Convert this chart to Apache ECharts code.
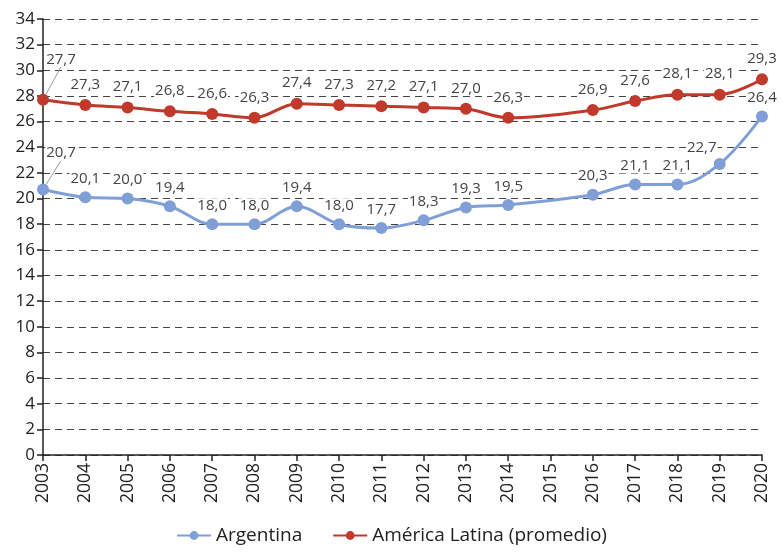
<!DOCTYPE html>
<html>
<head>
<meta charset="utf-8">
<script src="https://cdn.jsdelivr.net/npm/echarts@6/dist/echarts.min.js"></script>
<style>
html,body{margin:0;padding:0;background:#fff;}
#c{width:783px;height:554px;}
</style>
</head>
<body>
<div id="c"></div>
<script>
const years = ['2003','2004','2005','2006','2007','2008','2009','2010','2011','2012','2013','2014','2015','2016','2017','2018','2019','2020'];
const argentina = [20.7,20.1,20.0,19.4,18.0,18.0,19.4,18.0,17.7,18.3,19.3,19.5,null,20.3,21.1,21.1,22.7,26.4];
const americaLatina = [27.7,27.3,27.1,26.8,26.6,26.3,27.4,27.3,27.2,27.1,27.0,26.3,null,26.9,27.6,28.1,28.1,29.3];
const seriesNames = ['Argentina','América Latina (promedio)'];

const fontFam = '"Open Sans", "Noto Sans", sans-serif';
const fmt = p => p.value == null ? '' : p.value.toFixed(1).replace('.', ',');
const withLeader = arr => arr.map((v, i) => i === 0 ? {value: v, labelLine: {show: true}} : v);
const labelStyle = {
  show: true, position: 'top', formatter: fmt, fontFamily: fontFam, fontSize: 15, color: '#444',
  backgroundColor: '#fff', padding: [0, 1, 0, 1]
};

const chart = echarts.init(document.getElementById('c'));
chart.setOption({
  animation: false,
  grid: {left: 43, right: 21, top: 19, bottom: 99, containLabel: false},
  legend: {
    bottom: 4, left: 'center', itemGap: 30, itemWidth: 34, itemHeight: 11,
    textStyle: {fontFamily: fontFam, fontSize: 19, color: '#222'},
    data: seriesNames
  },
  xAxis: {
    type: 'category', data: years, boundaryGap: false,
    axisLine: {lineStyle: {color: '#222', width: 1.5}},
    axisTick: {show: true, alignWithLabel: true, length: 6, lineStyle: {color: '#222', width: 1.5}},
    axisLabel: {rotate: 90, fontFamily: fontFam, fontSize: 17.5, color: '#222', margin: 8, interval: 0}
  },
  yAxis: {
    type: 'value', min: 0, max: 34, interval: 2,
    axisLine: {show: true, lineStyle: {color: '#222', width: 1.5}},
    axisTick: {show: true, length: 6, lineStyle: {color: '#222', width: 1.5}},
    axisLabel: {fontFamily: fontFam, fontSize: 17, color: '#222', margin: 8},
    splitLine: {lineStyle: {type: [7, 5], color: '#444', width: 1}}
  },
  series: [
    {
      name: seriesNames[0], type: 'line', data: withLeader(argentina), smooth: 0.35, connectNulls: true,
      symbol: 'circle', symbolSize: 12,
      itemStyle: {color: '#7f9fd6'}, lineStyle: {color: '#7f9fd6', width: 3},
      label: Object.assign({distance: 5}, labelStyle),
      labelLine: {show: false, lineStyle: {color: '#999', width: 1}},
      labelLayout: p => {
        if (p.dataIndex === 0) return {dx: 18, dy: -18};
        if (p.dataIndex === 16) return {dx: -18, dy: 2};
        return {};
      }
    },
    {
      name: seriesNames[1], type: 'line', data: withLeader(americaLatina), smooth: 0.35, connectNulls: true,
      symbol: 'circle', symbolSize: 12,
      itemStyle: {color: '#c0392b'}, lineStyle: {color: '#c0392b', width: 3},
      label: Object.assign({distance: 7}, labelStyle),
      labelLine: {show: false, lineStyle: {color: '#999', width: 1}},
      labelLayout: p => {
        if (p.dataIndex === 0) return {dx: 18, dy: -20};
        return {};
      }
    }
  ]
});
</script>
</body>
</html>
